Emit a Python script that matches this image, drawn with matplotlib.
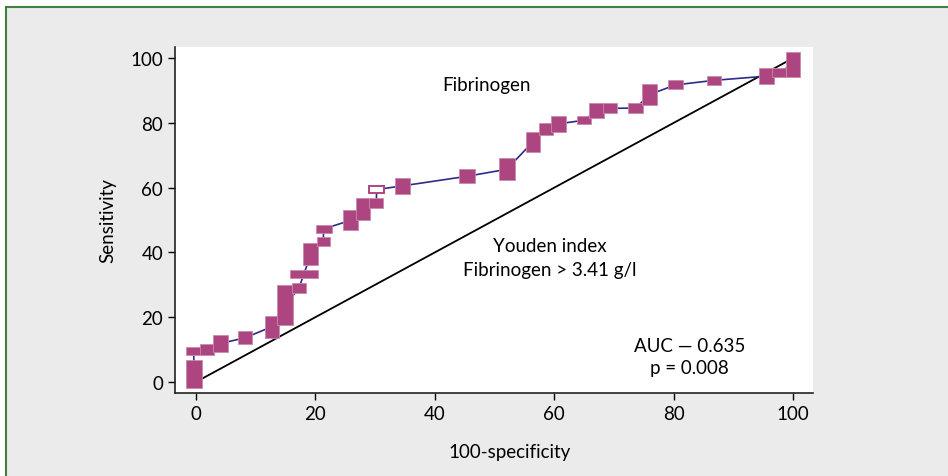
import matplotlib.pyplot as plt
from matplotlib.patches import Rectangle

plt.rcParams['font.family'] = ['Lato', 'DejaVu Sans']

# ROC points (100-specificity, sensitivity) and the size of each box
fpr = [-0.25, -0.4, 1.9, 4.05, 8.25, 12.7, 14.95, 17.25, 18.1, 19.25, 21.3, 21.4,
       25.9, 28.0, 30.2, 30.25, 34.65, 45.4, 52.05, 56.4, 58.6, 60.75, 65.0, 67.05,
       69.3, 73.65, 75.95, 80.3, 86.7, 95.45, 97.55, 99.9]
sens = [2.5, 9.5, 10.1, 11.85, 13.65, 17.05, 23.85, 29.0, 33.45, 39.5, 43.4, 47.25,
        49.9, 53.35, 55.3, 59.4, 60.55, 63.5, 65.65, 74.1, 78.0, 79.7, 80.8, 83.8,
        84.45, 84.55, 88.75, 91.7, 93.1, 94.4, 95.5, 98.05]
box_w = [2.7, 2.4, 2.4, 2.5, 2.3, 2.4, 2.7, 2.3, 4.8, 2.5, 2.2, 2.6,
         2.6, 2.4, 2.4, 2.5, 2.5, 2.6, 2.7, 2.4, 2.4, 2.5, 2.4, 2.5,
         2.4, 2.5, 2.5, 2.4, 2.4, 2.5, 2.3, 2.4]
box_h = [8.8, 2.6, 3.4, 5.1, 4.1, 6.7, 12.3, 3.0, 2.5, 7.0, 2.8, 2.7,
         6.2, 6.9, 3.0, 2.2, 4.9, 4.2, 6.9, 6.2, 3.8, 4.8, 2.6, 4.4,
         3.1, 3.3, 6.7, 2.8, 2.6, 5.0, 2.8, 7.9]
youden_idx = 15  # hollow box = Youden criterion

ticks = [0, 20, 40, 60, 80, 100]
fs = 13.5

fig = plt.figure(figsize=(9.48, 4.77), dpi=100, facecolor='white')
fig.patches.append(Rectangle((6 / 948, -0.05), 1.1, 1 - 8 / 477 + 0.05,
                             transform=fig.transFigure, facecolor='#EBEBEB',
                             edgecolor='#3F7F3F', linewidth=1.5, zorder=-10))

ax = fig.add_axes([175 / 948, 1 - 394 / 477, 638 / 948, 346 / 477])
ax.set_facecolor('white')
ax.set_xlim(-3.5, 103.3)
ax.set_ylim(-3.4, 103.4)

ax.plot([0, 100], [0, 100], color='black', lw=1.3, zorder=2)
ax.plot(fpr, sens, color='#2E2A8A', lw=1.2, zorder=3)

for i, (x, y, w, h) in enumerate(zip(fpr, sens, box_w, box_h)):
    if i == youden_idx:
        r = Rectangle((x - w / 2, y - h / 2), w, h, facecolor='white',
                      edgecolor='#AD4580', lw=1.4, zorder=5)
    else:
        r = Rectangle((x - w / 2, y - h / 2), w, h, facecolor='#AD4580',
                      edgecolor='#C98AAE', lw=0.6, zorder=4)
    ax.add_patch(r)

ax.text(48.7, 91.7, 'Fibrinogen', ha='center', va='center', fontsize=fs)
ax.text(59.3, 42.0, 'Youden index', ha='center', va='center', fontsize=fs)
ax.text(59.3, 34.6, 'Fibrinogen > 3.41 g/l', ha='center', va='center', fontsize=fs)
ax.text(82.6, 11.4, 'AUC \u2014 0.635', ha='center', va='center', fontsize=fs)
ax.text(82.6, 4.6, 'p = 0.008', ha='center', va='center', fontsize=fs)

ax.set_xticks(ticks)
ax.set_yticks(ticks)
ax.tick_params(direction='out', length=5, width=1, labelsize=fs, colors='black')
for s in ['top', 'right']:
    ax.spines[s].set_visible(False)
for s in ['left', 'bottom']:
    ax.spines[s].set_linewidth(1.2)
    ax.spines[s].set_color('#222222')

ax.set_xlabel('100-specificity', fontsize=fs)
ax.xaxis.set_label_coords((510 - 175) / 638, -0.145)
ax.set_ylabel('Sensitivity', fontsize=fs, labelpad=10)

fig.savefig('out.png', dpi=100, facecolor=fig.get_facecolor())
